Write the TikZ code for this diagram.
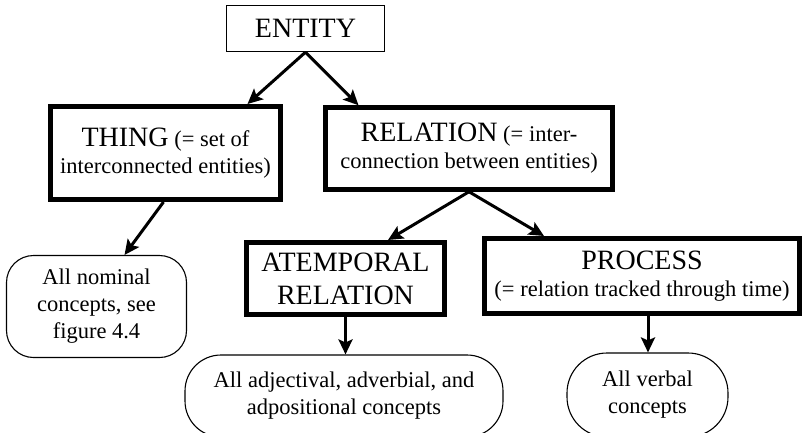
\documentclass[tikz,border=0pt]{standalone}
\usepackage{fontspec}
\newfontfamily\fa{Liberation Serif}
\usetikzlibrary{arrows.meta}
\newcommand\lgfont{\fontsize{28}{33}\selectfont}
\newcommand\smfont{\fontsize{22.5}{27}\selectfont}
\begin{document}
\begin{tikzpicture}[x=1pt,y=-1pt,
  basebox/.style={draw, inner sep=0pt, align=center, font=\fa\smfont},
  thinbox/.style={basebox, line width=1.3pt},
  heavybox/.style={basebox, line width=5pt},
  leafbox/.style={basebox, line width=1.1pt},
  link/.style={line width=3pt, -{Stealth[length=15pt,width=14pt,inset=3pt]}}]
\useasboundingbox (0,0) rectangle (807,432);

% top level
\node[thinbox, minimum width=158pt, minimum height=46pt] (entity) at (305.5,28.5) {\lgfont ENTITY};

% second level
\node[heavybox, minimum width=230pt, minimum height=93pt] (thing) at (165.5,153)
  {{\lgfont THING} (= set of\\interconnected entities)};
\node[heavybox, line width=4.5pt, minimum width=287pt, minimum height=82pt] (relation) at (469,148.5)
  {{\lgfont RELATION} (= inter-\\connection between entities)};

% third level
\node[heavybox, minimum width=198pt, minimum height=72pt, font=\fa\lgfont] (atemporal) at (345.5,278.5)
  {ATEMPORAL\\RELATION};
\node[heavybox, minimum width=315pt, minimum height=75pt] (process) at (642,276)
  {{\lgfont PROCESS}\\(= relation tracked through time)};

% concept groups
\node[leafbox, rounded corners=27pt, minimum width=180pt, minimum height=102pt] (nominal) at (96.5,306.5)
  {All nominal\\concepts, see\\figure 4.4};
\node[leafbox, rounded corners=36pt, minimum width=318pt, minimum height=82pt] (adject) at (344,396)
  {All adjectival, adverbial, and\\adpositional concepts};
\node[leafbox, rounded corners=40pt, minimum width=161pt, minimum height=84pt] (verbal) at (647.5,395)
  {All verbal\\concepts};

% connectors
\draw[link] (entity.south) -- ([xshift=-58pt]entity.south |- thing.north);
\draw[link] (entity.south) -- ([xshift=53pt]entity.south |- relation.north);
\draw[link] ([xshift=-2pt]thing.south) -- ([xshift=28pt]nominal.north);
\draw[link] (relation.south) -- ([xshift=-81pt]relation.south |- atemporal.north);
\draw[link] (relation.south) -- ([xshift=75pt]relation.south |- process.north);
\draw[link] (atemporal.south) -- (atemporal.south |- adject.north);
\draw[link] ([xshift=6pt]process.south) -- ([xshift=6pt]process.south |- verbal.north);
\end{tikzpicture}
\end{document}
